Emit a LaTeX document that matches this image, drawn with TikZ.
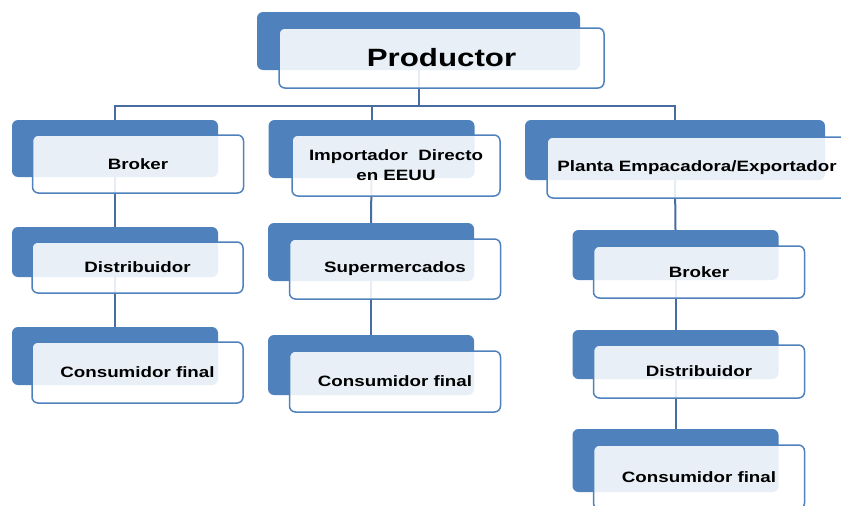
\documentclass[tikz,border=0pt]{standalone}
\usepackage{fontspec}
\setmainfont{Liberation Sans}[FakeStretch=1.25]
\definecolor{azul}{RGB}{79,129,189}
\definecolor{linea}{RGB}{72,108,160}
\tikzset{
  fondo/.style={fill=azul, rounded corners=6pt, minimum width=206pt, minimum height=58pt, inner sep=0pt},
  caja/.style={draw=azul, line width=1.5pt, fill=white, fill opacity=0.88, text opacity=1, rounded corners=6pt,
    minimum width=211pt, minimum height=60pt, inner sep=0pt, align=center, font=\bfseries\fontsize{15}{20}\selectfont},
  conexion/.style={draw=linea, line width=2pt}
}
\begin{document}
\begin{tikzpicture}[x=1pt, y=-1pt] %% canales de comercializacion

\useasboundingbox (0,0) rectangle (841,506);

%fondos
\node[fondo, minimum width=323pt] (productorF) at (418.5,41) {};
\node[fondo, minimum height=57pt] (broker1F) at (115,148.5) {};
\node[fondo, minimum height=50pt] (dist1F) at (115,252) {};
\node[fondo] (cons1F) at (115,356) {};
\node[fondo] (importF) at (371.5,149) {};
\node[fondo] (superF) at (371,252) {};
\node[fondo, minimum height=60pt] (cons2F) at (371,365) {};
\node[fondo, minimum width=300pt, minimum height=60pt] (plantaF) at (675,150) {};
\node[fondo, minimum height=50pt] (broker2F) at (675.5,255) {};
\node[fondo, minimum height=49pt] (dist2F) at (675.5,354.5) {};
\node[fondo, minimum height=63pt] (cons3F) at (675.5,460.5) {};

%lineas
\coordinate (bus) at (418.5,106);
\draw[conexion] (productorF.south) -- (bus);
\draw[conexion] (broker1F.north) |- (bus) -| (plantaF.north);
\draw[conexion] (bus) -| (importF.north);
\draw[conexion] (broker1F.south) -- (dist1F.north);
\draw[conexion] (dist1F.south) -- (cons1F.north);
\draw[conexion] (importF.south) -- (superF.north);
\draw[conexion] (superF.south) -- (cons2F.north);
\draw[conexion] (plantaF.south) -- (broker2F.north);
\draw[conexion] (broker2F.south) -- (dist2F.north);
\draw[conexion] (dist2F.south) -- (cons3F.north);

%cajas
\node[caja, minimum width=325pt, font=\bfseries\fontsize{25}{30}\selectfont] (productor) at (441.5,58) {Productor};
\node[caja, minimum height=58pt] (broker1) at (138,164) {Broker};
\node[caja, minimum height=51pt] (dist1) at (137.5,267.5) {Distribuidor};
\node[caja, minimum height=61pt] (cons1) at (137.5,372.5) {Consumidor final};
\node[caja, minimum width=208pt, minimum height=61pt] (import) at (396,165.5) {Importador~~Directo\\en EEUU};
\node[caja] (super) at (395,269) {Supermercados};
\node[caja, minimum height=61pt] (cons2) at (395,381.5) {Consumidor final};
\node[caja, minimum width=300pt, minimum height=61pt] (planta) at (697,167.5) {Planta Empacadora/Exportador};
\node[caja, minimum height=52pt] (broker2) at (699,272) {Broker};
\node[caja, minimum height=53pt] (dist2) at (699,371.5) {Distribuidor};
\node[caja, minimum height=64pt] (cons3) at (699,477) {Consumidor final};

\end{tikzpicture}
\end{document}
